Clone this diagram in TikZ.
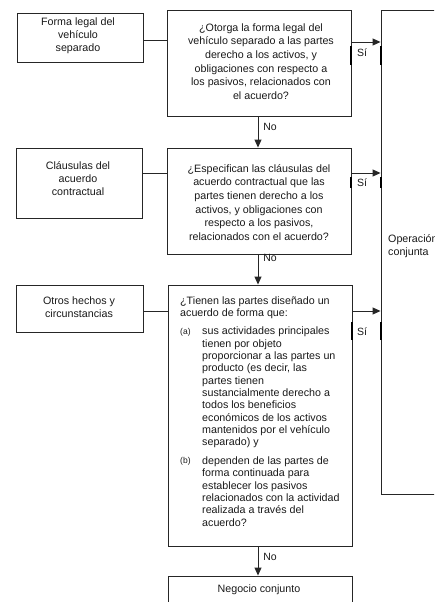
\documentclass[tikz,border=0pt]{standalone}
\usepackage{fontspec}
\setmainfont{Liberation Sans}
\usetikzlibrary{arrows.meta}
\tikzset{
  boxshape/.style={draw=black!85, line width=0.9pt, inner sep=0pt, rectangle},
  txt/.style={inner sep=0pt, align=center, text=black!90, font=\fontsize{10.7}{13}\selectfont},
  qtxt/.style={inner sep=0pt, align=center, text=black!90, font=\fontsize{10.7}{13.6}\selectfont},
  ltxt/.style={inner sep=0pt, align=left, text=black!90, font=\fontsize{10.7}{12.3}\selectfont},
  itemlbl/.style={inner sep=0pt, text=black!90, font=\fontsize{8.5}{10}\selectfont},
  lbl/.style={inner sep=0pt, text=black!90, font=\fontsize{10.5}{12}\selectfont},
  conn/.style={draw=black!85, line width=0.9pt},
  arr/.style={draw=black!85, line width=0.9pt, -{Triangle[length=8pt,width=7pt]}},
  thickmark/.style={draw=black, line width=2pt}
}
\begin{document}
\begin{tikzpicture}[x=1pt,y=-1pt]
\useasboundingbox (0,0) rectangle (434,602);
\clip (0,0) rectangle (434,602);

% boxes
\node[boxshape, minimum width=126pt, minimum height=49pt] (L1) at (80,37.5) {};
\node[boxshape, minimum width=184pt, minimum height=106pt] (Q1) at (259,63) {};
\node[boxshape, minimum width=126pt, minimum height=70pt] (L2) at (79,183) {};
\node[boxshape, minimum width=184pt, minimum height=106pt] (Q2) at (259,201) {};
\node[boxshape, minimum width=127pt, minimum height=47pt] (L3) at (79.5,308.5) {};
\node[boxshape, minimum width=184pt, minimum height=261pt] (Q3) at (260,415.5) {};
\node[boxshape, minimum width=184pt, minimum height=60pt] (N) at (260,606) {};
\node[boxshape, minimum width=120pt, minimum height=484pt] (R) at (441,252) {};

% texts
\node[txt] (L1t) at (78,36) {Forma legal del\\vehículo\\separado};
\node[txt] (L2t) at (78,178.5) {Cláusulas del\\acuerdo\\contractual};
\node[txt] (L3t) at (79,307) {Otros hechos y\\circunstancias};
\node[qtxt] (Q1t) at (261,61.5) {¿Otorga la forma legal del\\vehículo separado a las partes\\derecho a los activos, y\\obligaciones con respecto a\\los pasivos, relacionados con\\el acuerdo?};
\node[qtxt] (Q2t) at (259,202.5) {¿Especifican las cláusulas del\\acuerdo contractual que las\\partes tienen derecho a los\\activos, y obligaciones con\\respecto a los pasivos,\\relacionados con el acuerdo?};
\node[ltxt, anchor=west] (Q3i) at (180,307.5) {¿Tienen las partes diseñado un\\acuerdo de forma que:};
\node[itemlbl, anchor=west] (Q3al) at (180,332) {(a)};
\node[ltxt, anchor=west] (Q3a) at (202,387.5) {sus actividades principales\\tienen por objeto\\proporcionar a las partes un\\producto (es decir, las\\partes tienen\\sustancialmente derecho a\\todos los beneficios\\económicos de los activos\\mantenidos por el vehículo\\separado) y};
\node[itemlbl, anchor=west] (Q3bl) at (180,461) {(b)};
\node[ltxt, anchor=west] (Q3b) at (202,491.5) {dependen de las partes de\\forma continuada para\\establecer los pasivos\\relacionados con la actividad\\realizada a través del\\acuerdo?};
\node[txt, anchor=west, align=left] (Rt) at (388,246) {Operación\\conjunta};
\node[txt] (Nt) at (259,590) {Negocio conjunto};

% connectors from left boxes
\draw[conn] (L1.east |- 0,40) -- (Q1.west |- 0,40);
\draw[conn] (L2.east |- 0,173) -- (Q2.west |- 0,173);
\draw[conn] (L3.east |- 0,311) -- (Q3.west |- 0,311);

% yes arrows
\draw[arr] (Q1.east |- 0,42) -- (R.west |- 0,42);
\draw[arr] (Q2.east |- 0,173) -- (R.west |- 0,173);
\draw[arr] (Q3.east |- 0,311) -- (R.west |- 0,311);

% thick marks beside Sí
\draw[thickmark] (Q1.east |- 0,46) -- (Q1.east |- 0,65);
\draw[thickmark] (R.west |- 0,46) -- (R.west |- 0,65);
\draw[thickmark] (Q2.east |- 0,177) -- (Q2.east |- 0,188);
\draw[thickmark] (R.west |- 0,177) -- (R.west |- 0,188);
\draw[thickmark] (Q3.east |- 0,322) -- (Q3.east |- 0,340);
\draw[thickmark] (R.west |- 0,322) -- (R.west |- 0,340);

\node[lbl] (S1) at (362,53) {Sí};
\node[lbl] (S2) at (362,183) {Sí};
\node[lbl] (S3) at (362,332) {Sí};

% no arrows
\draw[arr] (Q1.south -| 258,0) -- (Q2.north -| 258,0);
\draw[arr] (Q2.south -| 258,0) -- (Q3.north -| 258,0);
\draw[arr] (Q3.south -| 258,0) -- (N.north -| 258,0);
\node[lbl] (N1) at (270,127) {No};
\node[lbl] (N2) at (270,258) {No};
\node[lbl] (N3) at (270,557) {No};
\end{tikzpicture}
\end{document}
